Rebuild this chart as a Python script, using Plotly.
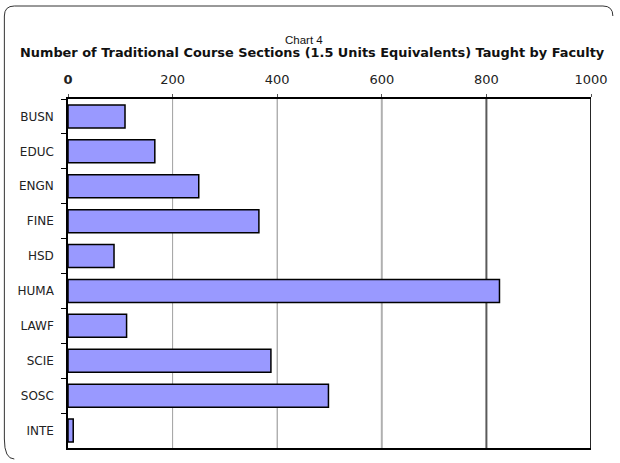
import plotly.graph_objects as go

# ---- data ----
categories = ["BUSN", "EDUC", "ENGN", "FINE", "HSD", "HUMA", "LAWF", "SCIE", "SOSC", "INTE"]
values = [109, 166, 250, 365, 88, 825, 112, 388, 498, 10]
tick_vals = [0, 200, 400, 600, 800, 1000]
tick_labels = ["<b>0</b>", "200", "400", "600", "800", "1000"]
title_line1 = "Chart 4"
title_line2 = "Number of Traditional Course Sections (1.5 Units Equivalents) Taught by Faculty"

# ---- layout geometry ----
W, H = 620, 463
ML, MR, MT, MB = 68, 26, 99, 15
PW, PH = W - ML - MR, H - MT - MB


def fx(px):
    return (px - ML) / PW


def fy(py):
    return (H - MB - py) / PH


FONT = "DejaVu Sans, Verdana, sans-serif"
FONT_NARROW = "Liberation Sans, Arial, sans-serif"

fig = go.Figure(
    go.Bar(
        x=values,
        y=categories,
        orientation="h",
        marker=dict(color="#9999FF", line=dict(color="#000000", width=1.5)),
        width=0.66,
        hoverinfo="x+y",
    )
)

# gridlines with the varied shades seen in the reference
grid_vals = tick_vals[1:]
grid_colors = ["#a0a0a0", "#8c8c8c", "#b0b0b0", "#5a5a5a", "#262626"]
grid_widths = [1, 1, 2, 2, 2]
shapes = []
for gv, gc, gw in zip(grid_vals, grid_colors, grid_widths):
    shapes.append(dict(type="line", xref="x", yref="paper", x0=gv, x1=gv, y0=0, y1=1,
                       line=dict(color=gc, width=gw), layer="below"))

# rounded outer border (partially visible in the reference)
x0, x1, y0, y1, r = fx(4), fx(616), fy(6), fy(459), 10
rx, ry = r / PW, r / PH
path = (f"M {x0},{y1 + ry * 2} L {x0},{y0 - ry} Q {x0},{y0} {x0 + rx},{y0} "
        f"L {x1 - rx},{y0} Q {x1},{y0} {x1},{y0 - ry} "
        f"M {x0},{y1 + ry * 2} Q {x0},{y1} {x0 + rx},{y1}")
shapes.append(dict(type="path", xref="paper", yref="paper", path=path,
                   line=dict(color="#333333", width=1)))

fig.update_layout(
    width=W,
    height=H,
    margin=dict(l=ML, r=MR, t=MT, b=MB, pad=0),
    paper_bgcolor="white",
    plot_bgcolor="white",
    showlegend=False,
    bargap=0.34,
    shapes=shapes,
    font=dict(family=FONT, color="#222222", size=12),
    annotations=[
        dict(text=title_line1, xref="paper", yref="paper", x=fx(305), y=fy(40),
             xanchor="center", yanchor="middle", showarrow=False,
             font=dict(family=FONT_NARROW, size=11.5, color="#111111")),
        dict(text="<b>" + title_line2 + "</b>", xref="paper", yref="paper", x=fx(314), y=fy(52),
             xanchor="center", yanchor="middle", showarrow=False,
             font=dict(family=FONT, size=12.9, color="#111111")),
    ],
)

fig.update_xaxes(
    side="top",
    range=[0, 1000],
    tickvals=tick_vals,
    ticktext=tick_labels,
    ticks="outside",
    ticklen=3,
    tickcolor="#555555",
    showgrid=False,
    zeroline=False,
    showline=True,
    linecolor="#000000",
    linewidth=1.5,
    mirror=True,
    ticklabelstandoff=5,
    tickfont=dict(size=13, color="#222222"),
    fixedrange=True,
)
fig.update_yaxes(
    type="category",
    autorange="reversed",
    ticks="outside",
    tickson="boundaries",
    ticklen=5,
    tickcolor="#000000",
    showline=True,
    linecolor="#000000",
    linewidth=1.5,
    showgrid=False,
    zeroline=False,
    automargin=False,
    ticklabelstandoff=10,
    tickfont=dict(size=12, color="#222222"),
    fixedrange=True,
)

fig.write_html(
    "out.html",
    config={"displayModeBar": False},
    post_script="document.body.style.margin='0';document.body.style.padding='0';",
)
